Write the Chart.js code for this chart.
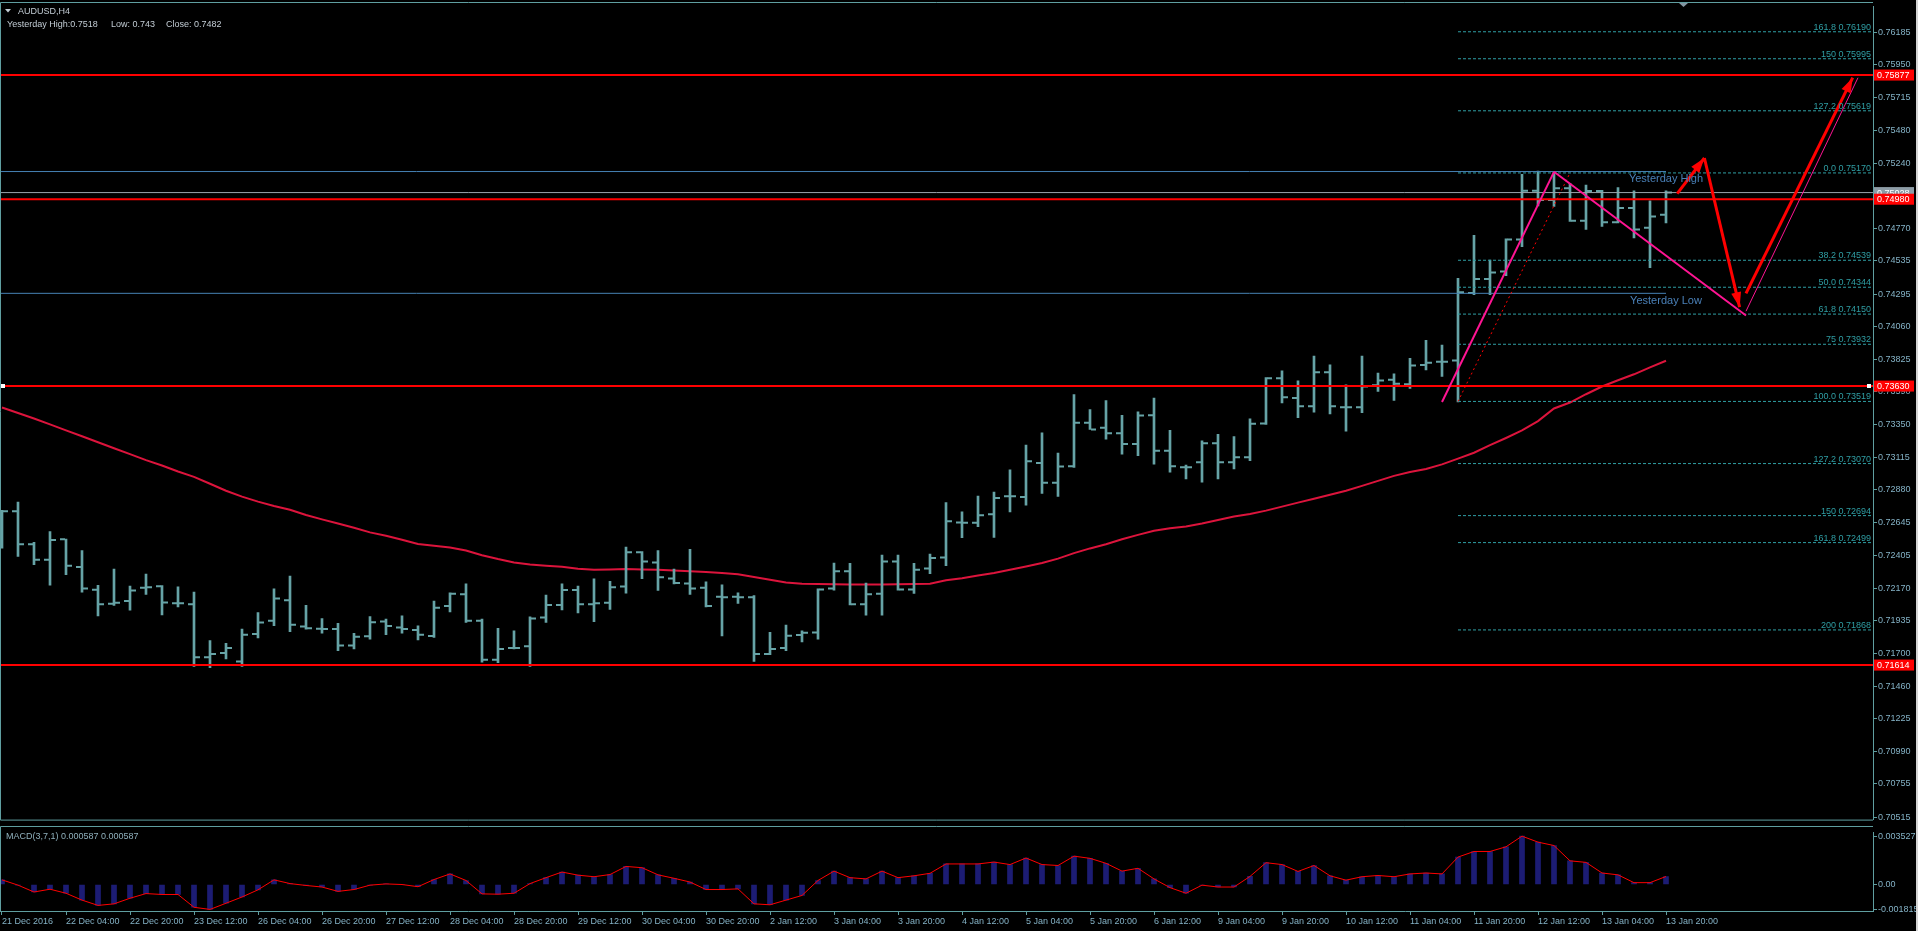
<!DOCTYPE html>
<html><head><meta charset="utf-8">
<script src="https://cdn.jsdelivr.net/npm/chart.js@4.4.1/dist/chart.umd.min.js"></script>
<style>
html,body{margin:0;padding:0;background:#000;overflow:hidden;}
#wrap{position:relative;width:1918px;height:931px;background:#000;}
canvas{position:absolute;left:0;display:block;}
#main{top:0;}
#macd{top:826px;}
</style></head><body>
<div id="wrap"><canvas id="main" width="1918" height="826"></canvas><canvas id="macd" width="1918" height="105"></canvas></div>
<script>
// ---------------- DATA ----------------
const timeLabels = ['21 Dec 2016','22 Dec 04:00','22 Dec 20:00','23 Dec 12:00','26 Dec 04:00','26 Dec 20:00','27 Dec 12:00','28 Dec 04:00','28 Dec 20:00','29 Dec 12:00','30 Dec 04:00','30 Dec 20:00','2 Jan 12:00','3 Jan 04:00','3 Jan 20:00','4 Jan 12:00','5 Jan 04:00','5 Jan 20:00','6 Jan 12:00','9 Jan 04:00','9 Jan 20:00','10 Jan 12:00','11 Jan 04:00','11 Jan 20:00','12 Jan 12:00','13 Jan 04:00','13 Jan 20:00'];
const barsPerLabel = 4;

const opens = [0.72602,0.72726,0.72487,0.72375,0.72523,0.72323,0.72158,0.72058,0.72077,0.72172,
0.72184,0.72060,0.72053,0.71671,0.71702,0.71640,0.71838,0.71934,0.72082,0.71893,
0.71876,0.71874,0.71755,0.71822,0.71929,0.71886,0.71867,0.71824,0.72041,0.72125,
0.71934,0.71652,0.71738,0.71750,0.71958,0.72048,0.72156,0.72053,0.72065,0.72182,
0.72430,0.72356,0.72239,0.72203,0.72172,0.72108,0.72108,0.72105,0.71695,0.71738,
0.71831,0.71850,0.72167,0.72292,0.72053,0.72129,0.72363,0.72160,0.72311,0.72392,
0.72645,0.72642,0.72704,0.72833,0.72828,0.73074,0.72931,0.73050,0.73365,0.73329,
0.73289,0.73212,0.73420,0.73162,0.73043,0.73079,0.73217,0.73079,0.73115,0.73360,
0.73687,0.73544,0.73484,0.73730,0.73477,0.73477,0.73635,0.73675,0.73644,0.73783,
0.73806,0.73814,0.74303,0.74403,0.74458,0.74689,0.75042,0.74975,0.75059,0.74825,
0.75040,0.74813,0.74916,0.74773,0.74868];
const highs = [0.72733,0.72792,0.72501,0.72578,0.72525,0.72442,0.72191,0.72308,0.72184,0.72272,
0.72189,0.72179,0.72141,0.71791,0.71771,0.71874,0.71993,0.72165,0.72258,0.72046,
0.71950,0.71915,0.71843,0.71965,0.71946,0.71969,0.71898,0.72077,0.72136,0.72201,
0.71946,0.71879,0.71862,0.71962,0.72120,0.72201,0.72184,0.72237,0.72220,0.72466,
0.72435,0.72442,0.72308,0.72451,0.72215,0.72194,0.72136,0.72117,0.71850,0.71903,
0.71862,0.72165,0.72351,0.72349,0.72206,0.72408,0.72408,0.72349,0.72416,0.72788,
0.72721,0.72835,0.72864,0.73024,0.73203,0.73293,0.73146,0.73568,0.73460,0.73525,
0.73418,0.73444,0.73544,0.73310,0.73060,0.73234,0.73282,0.73265,0.73394,0.73692,
0.73740,0.73668,0.73847,0.73783,0.73639,0.73847,0.73723,0.73718,0.73830,0.73961,
0.73926,0.74408,0.74720,0.74541,0.74694,0.75159,0.75183,0.75178,0.75095,0.75083,
0.75045,0.75064,0.75040,0.74968,0.75040];
const lows = [0.72459,0.72399,0.72339,0.72191,0.72268,0.72141,0.71969,0.72046,0.72010,0.72125,
0.71977,0.72034,0.71604,0.71595,0.71659,0.71604,0.71810,0.71898,0.71855,0.71874,
0.71845,0.71719,0.71731,0.71802,0.71833,0.71845,0.71795,0.71814,0.71998,0.71922,
0.71635,0.71631,0.71731,0.71604,0.71922,0.72012,0.71991,0.71927,0.72017,0.72134,
0.72239,0.72153,0.72201,0.72125,0.72034,0.71824,0.72060,0.71640,0.71690,0.71719,
0.71781,0.71802,0.72156,0.72048,0.71974,0.71974,0.72156,0.72132,0.72275,0.72332,
0.72535,0.72614,0.72537,0.72721,0.72769,0.72855,0.72833,0.73043,0.73317,0.73246,
0.73138,0.73127,0.73065,0.73007,0.72960,0.72936,0.72960,0.73031,0.73091,0.73353,
0.73508,0.73401,0.73441,0.73429,0.73305,0.73437,0.73592,0.73527,0.73613,0.73747,
0.73699,0.73515,0.74291,0.74291,0.74427,0.74637,0.74932,0.74928,0.74820,0.74761,
0.74784,0.74808,0.74701,0.74486,0.74808];
const closes = [0.72726,0.72487,0.72375,0.72518,0.72332,0.72167,0.72053,0.72065,0.72153,0.72177,
0.72067,0.72060,0.71671,0.71695,0.71738,0.71833,0.71922,0.72096,0.71905,0.71881,
0.71874,0.71755,0.71819,0.71924,0.71896,0.71874,0.71833,0.72029,0.72129,0.71934,
0.71652,0.71731,0.71738,0.71950,0.72048,0.72156,0.72053,0.72060,0.72177,0.72430,
0.72363,0.72249,0.72208,0.72167,0.72041,0.72105,0.72105,0.71695,0.71731,0.71826,
0.71848,0.72160,0.72292,0.72053,0.72125,0.72363,0.72160,0.72303,0.72387,0.72654,
0.72642,0.72697,0.72821,0.72833,0.73086,0.72931,0.73048,0.73365,0.73317,0.73289,
0.73212,0.73418,0.73162,0.73050,0.73043,0.73217,0.73079,0.73115,0.73358,0.73687,
0.73549,0.73484,0.73730,0.73484,0.73477,0.73627,0.73670,0.73647,0.73778,0.73799,
0.73806,0.74307,0.74403,0.74451,0.74689,0.75042,0.74975,0.75059,0.74825,0.75040,
0.74813,0.74916,0.74761,0.74856,0.75028];
const maValues = [0.73475,0.73435,0.73396,0.73353,0.73310,0.73267,0.73224,0.73181,0.73138,0.73095,
0.73056,0.73013,0.72974,0.72924,0.72874,0.72831,0.72795,0.72764,0.72736,0.72699,
0.72667,0.72637,0.72606,0.72573,0.72548,0.72520,0.72489,0.72477,0.72463,0.72442,
0.72408,0.72380,0.72356,0.72340,0.72332,0.72324,0.72310,0.72302,0.72305,0.72308,
0.72305,0.72303,0.72297,0.72292,0.72287,0.72279,0.72270,0.72251,0.72231,0.72211,
0.72201,0.72199,0.72198,0.72197,0.72196,0.72196,0.72198,0.72199,0.72201,0.72227,
0.72242,0.72262,0.72279,0.72303,0.72327,0.72351,0.72383,0.72423,0.72457,0.72487,
0.72523,0.72555,0.72584,0.72602,0.72616,0.72637,0.72662,0.72687,0.72705,0.72730,
0.72759,0.72788,0.72816,0.72845,0.72874,0.72909,0.72945,0.72981,0.73009,0.73031,
0.73064,0.73106,0.73148,0.73203,0.73255,0.73310,0.73377,0.73468,0.73511,0.73571,
0.73627,0.73672,0.73715,0.73765,0.73813];
const macdValues = [0.000341,-0.000045,-0.000546,-0.000341,-0.000636,-0.001137,-0.001523,-0.001409,-0.001000,-0.000659,
-0.000727,-0.000727,-0.001659,-0.001815,-0.001364,-0.000909,-0.000386,0.000341,0.000068,-0.000068,
-0.000182,-0.000500,-0.000364,-0.000045,0.000045,0.000000,-0.000159,0.000364,0.000773,0.000295,
-0.000682,-0.000705,-0.000636,0.000068,0.000500,0.000909,0.000682,0.000568,0.000727,0.001318,
0.001227,0.000705,0.000455,0.000182,-0.000364,-0.000364,-0.000318,-0.001409,-0.001477,-0.001137,
-0.000796,0.000295,0.000977,0.000500,0.000409,0.000977,0.000500,0.000636,0.000818,0.001500,
0.001500,0.001500,0.001637,0.001455,0.001932,0.001455,0.001387,0.002068,0.001909,0.001546,
0.000977,0.001182,0.000409,-0.000227,-0.000636,-0.000045,-0.000182,-0.000182,0.000591,0.001591,
0.001455,0.000955,0.001387,0.000636,0.000318,0.000568,0.000659,0.000568,0.000773,0.000841,
0.000773,0.002000,0.002409,0.002409,0.002750,0.003527,0.003091,0.002841,0.001727,0.001614,
0.000841,0.000705,0.000136,0.000136,0.000587];

const priceTicks = [0.76185,0.75950,0.75715,0.75480,0.75240,0.75005,0.74770,0.74535,0.74295,0.74060,0.73825,0.73590,0.73350,0.73115,0.72880,0.72645,0.72405,0.72170,0.71935,0.71700,0.71460,0.71225,0.70990,0.70755,0.70515];
const macdTicks = [0.003527, 0, -0.001815];
const redLevels = [0.75877, 0.74980, 0.73630, 0.71614];
const selectedLevel = 0.73630;
const bidPrice = 0.75028;
const symbolTitle = 'AUDUSD,H4';
const yesterdayHigh = 0.7518, yesterdayLow = 0.743, yesterdayClose = 0.7482;
const fibRatios = ['161.8','150','127.2','0.0','38.2','50.0','61.8','75','100.0','127.2','150','161.8','200'];
const fibPrices = [0.76190,0.75995,0.75619,0.75170,0.74539,0.74344,0.74150,0.73932,0.73519,0.73070,0.72694,0.72499,0.71868];
const fibTrend = [[91,0.73519],[98,0.75170]];
const flagPole = [[90,0.73515],[97,0.75178]];
const flagFall = [[97,0.75178],[109,0.74140]];
const channelRise = [[109,0.74171],[116,0.75858]];
const arrowUp1 = [[104.7,0.75021],[106.4,0.75278]];
const arrowDown = [[106.4,0.75278],[108.6,0.74200]];
const arrowUp2 = [[109.0,0.74300],[115.67,0.75858]];
const macdTitle = 'MACD(3,7,1)';

// ---------------- STYLE ----------------
const FONT = '"Liberation Sans", Arial, sans-serif';
const AXIS_TXT = '#84b2c6';
const FRAME = '#5f9ea0';
const BAR_COL = '#66a3a6';
const FIB_COL = '#2f9ea4';
const X_MIN = -0.125, X_MAX = 116.9375;
const Y_MIN = 0.704976, Y_MAX = 0.763732;
const TICK_OFF = 0.21875;
const lastIdx = closes.length - 1;

const pts = arr => arr.map(p => ({x: p[0], y: p[1]}));
const hline = (v, x0, x1) => [{x: x0, y: v}, {x: x1, y: v}];

const mainDatasets = [];
mainDatasets.push({type:'line', data: maValues.map((v,i)=>({x:i,y:v})), borderColor:'#dc143c', borderWidth:2, pointRadius:0, order:30});
mainDatasets.push({type:'bar', data: highs.map((h,i)=>({x:i,y:[lows[i],h]})), backgroundColor:BAR_COL, barThickness:2, order:25});
mainDatasets.push({type:'scatter', data: opens.map((v,i)=>({x:i-TICK_OFF,y:v})), pointStyle:'line', pointRadius:2.5, pointBorderWidth:2, pointBorderColor:BAR_COL, borderColor:BAR_COL, showLine:false, order:24});
mainDatasets.push({type:'scatter', data: closes.map((v,i)=>({x:i+TICK_OFF,y:v})), pointStyle:'line', pointRadius:2.5, pointBorderWidth:2, pointBorderColor:BAR_COL, borderColor:BAR_COL, showLine:false, order:24});
fibPrices.forEach(p => mainDatasets.push({type:'line', data: hline(p, fibTrend[0][0], X_MAX), borderColor:FIB_COL, borderWidth:1, borderDash:[3,2], pointRadius:0, order:20}));
[yesterdayHigh, yesterdayLow].forEach(p => mainDatasets.push({type:'line', data: hline(p, X_MIN, lastIdx), borderColor:'#4682b4', borderWidth:1, pointRadius:0, order:19}));
mainDatasets.push({type:'line', data: hline(bidPrice, X_MIN, X_MAX), borderColor:'#9aa4ac', borderWidth:1, pointRadius:0, order:18});
redLevels.forEach(p => mainDatasets.push({type:'line', data: hline(p, X_MIN, X_MAX), borderColor:'#ff0000', borderWidth:2, pointRadius:0, order:17}));
mainDatasets.push({type:'line', data: pts(fibTrend), borderColor:'#ff0000', borderWidth:1, borderDash:[2,3], pointRadius:0, order:16});
mainDatasets.push({type:'line', data: pts(flagPole), borderColor:'#ff1493', borderWidth:2, pointRadius:0, order:15});
mainDatasets.push({type:'line', data: pts(flagFall), borderColor:'#ff1493', borderWidth:2, pointRadius:0, order:15});
mainDatasets.push({type:'line', data: pts(channelRise), borderColor:'#ff1493', borderWidth:1, pointRadius:0, order:15});
[arrowUp1, arrowDown, arrowUp2].forEach(a => mainDatasets.push({type:'line', data: pts(a), borderColor:'#ff0000', borderWidth:3, pointRadius:0, order:14}));

function arrowHead(ctx, x1, y1, x2, y2, len, half){
  const a = Math.atan2(y2-y1, x2-x1);
  const bx = x2 - len*Math.cos(a), by = y2 - len*Math.sin(a);
  ctx.beginPath();
  ctx.moveTo(x2, y2);
  ctx.lineTo(bx + half*Math.sin(a), by - half*Math.cos(a));
  ctx.lineTo(bx - half*Math.sin(a), by + half*Math.cos(a));
  ctx.closePath(); ctx.fill();
}

const mainOverlay = {
  id:'mainOverlay',
  afterDraw(chart){
    const {ctx, chartArea:ca, scales:{x, y}} = chart;
    ctx.save();
    // frame
    ctx.strokeStyle = FRAME; ctx.lineWidth = 1;
    ctx.beginPath();
    ctx.moveTo(ca.right, 2.5); ctx.lineTo(0.5, 2.5); ctx.lineTo(0.5, ca.bottom + 0.5); ctx.lineTo(ca.right, ca.bottom + 0.5);
    ctx.stroke();
    // header
    ctx.fillStyle = '#c2ccd4';
    ctx.beginPath(); ctx.moveTo(5, 9); ctx.lineTo(11, 9); ctx.lineTo(8, 12.5); ctx.closePath(); ctx.fill();
    ctx.font = '9px ' + FONT; ctx.textBaseline = 'alphabetic'; ctx.textAlign = 'left';
    ctx.fillText(symbolTitle, 18, 13.5);
    ctx.fillText('Yesterday High:' + yesterdayHigh, 7, 27);
    ctx.fillText('Low: ' + yesterdayLow, 111, 27);
    ctx.fillText('Close: ' + yesterdayClose, 166, 27);
    // chart shift marker
    ctx.fillStyle = '#8396a2';
    ctx.beginPath(); ctx.moveTo(1679, 3); ctx.lineTo(1688, 3); ctx.lineTo(1683.5, 7); ctx.closePath(); ctx.fill();
    // fib labels
    ctx.fillStyle = FIB_COL; ctx.textAlign = 'right'; ctx.font = '9px ' + FONT;
    fibPrices.forEach((p,k) => ctx.fillText(fibRatios[k] + ' ' + p.toFixed(5), x.getPixelForValue(X_MAX) - 2, y.getPixelForValue(p) - 2));
    // yesterday labels
    ctx.fillStyle = '#4a80b8'; ctx.textAlign = 'center'; ctx.font = '11px ' + FONT;
    ctx.fillText('Yesterday High', x.getPixelForValue(lastIdx), y.getPixelForValue(yesterdayHigh) + 10);
    ctx.fillText('Yesterday Low', x.getPixelForValue(lastIdx), y.getPixelForValue(yesterdayLow) + 11);
    // arrow heads
    ctx.fillStyle = '#ff0000';
    [arrowUp1, arrowDown, arrowUp2].forEach(a => {
      const p1 = a[a.length-2], p2 = a[a.length-1];
      arrowHead(ctx, x.getPixelForValue(p1[0]), y.getPixelForValue(p1[1]), x.getPixelForValue(p2[0]), y.getPixelForValue(p2[1]), 15, 5);
    });
    // selection markers
    const ys = y.getPixelForValue(selectedLevel);
    ctx.fillStyle = '#ffffff';
    ctx.fillRect(1, Math.round(ys) - 2, 4, 4);
    ctx.fillRect(ca.right - 6, Math.round(ys) - 2, 4, 4);
    // price boxes
    ctx.textAlign = 'left'; ctx.textBaseline = 'middle'; ctx.font = '9px ' + FONT;
    const box = (v, bg, fg) => {
      const py = y.getPixelForValue(v);
      ctx.fillStyle = bg; ctx.fillRect(ca.right + 1, py - 5.5, 40, 11);
      ctx.fillStyle = fg; ctx.fillText(v.toFixed(5), ca.right + 4, py + 0.5);
    };
    box(bidPrice, '#8d9ca6', '#ffffff');
    redLevels.forEach(v => box(v, '#ff0000', '#ffffff'));
    // window edge
    ctx.fillStyle = '#d4d4d4'; ctx.fillRect(1916, 0, 2, chart.height);
    ctx.restore();
  }
};

new Chart(document.getElementById('main'), {
  type:'line',
  data:{datasets: mainDatasets},
  options:{
    responsive:false, animation:false, devicePixelRatio:1, events:[],
    layout:{autoPadding:false, padding:{top:3, bottom:2, left:0, right:0}},
    plugins:{legend:{display:false}, tooltip:{enabled:false}},
    scales:{
      x:{type:'linear', min:X_MIN, max:X_MAX, display:false, offset:false, grid:{offset:false}},
      y:{type:'linear', position:'right', min:Y_MIN, max:Y_MAX, beginAtZero:false,
        afterFit:s=>{s.width=45;},
        afterBuildTicks:s=>{s.ticks = priceTicks.map(v=>({value:v}));},
        ticks:{autoSkip:false, padding:1, color:AXIS_TXT, font:{family:FONT, size:9}, callback:v=>Number(v).toFixed(5)},
        grid:{display:true, drawOnChartArea:false, drawTicks:true, tickLength:4, tickColor:FRAME},
        border:{display:true, color:FRAME, width:1}}
    }
  },
  plugins:[mainOverlay]
});

const macdOverlay = {
  id:'macdOverlay',
  afterDraw(chart){
    const {ctx, chartArea:ca} = chart;
    ctx.save();
    ctx.strokeStyle = FRAME; ctx.lineWidth = 1;
    ctx.beginPath();
    ctx.moveTo(ca.right, 0.5); ctx.lineTo(0.5, 0.5); ctx.lineTo(0.5, ca.bottom);
    ctx.stroke();
    ctx.fillStyle = '#8fb0bc'; ctx.font = '9px ' + FONT; ctx.textBaseline='alphabetic'; ctx.textAlign='left';
    const last = macdValues[macdValues.length-1].toFixed(6);
    ctx.fillText(macdTitle + ' ' + last + ' ' + last, 6, 13);
    ctx.fillStyle = '#d4d4d4'; ctx.fillRect(1916, 0, 2, chart.height);
    ctx.restore();
  }
};

new Chart(document.getElementById('macd'), {
  type:'bar',
  data:{datasets:[
    {type:'line', data: macdValues.map((v,i)=>({x:i,y:v})), borderColor:'#ff0000', borderWidth:1, pointRadius:0, order:0},
    {type:'bar', data: macdValues.map((v,i)=>({x:i,y:v})), backgroundColor:'#1c1c74', barThickness:5, order:1}
  ]},
  options:{
    responsive:false, animation:false, devicePixelRatio:1, events:[],
    layout:{autoPadding:false, padding:{top:1, bottom:0, left:0, right:0}},
    plugins:{legend:{display:false}, tooltip:{enabled:false}},
    scales:{
      x:{type:'linear', min:X_MIN, max:X_MAX, offset:false,
        afterFit:s=>{s.height=20;},
        afterBuildTicks:s=>{s.ticks = timeLabels.map((_,k)=>({value:k*barsPerLabel}));},
        ticks:{autoSkip:false, maxRotation:0, minRotation:0, align:'start', padding:1, color:AXIS_TXT, font:{family:FONT, size:9}, callback:(v,i)=>timeLabels[i]},
        grid:{display:true, drawOnChartArea:false, drawTicks:true, tickLength:4, tickColor:FRAME, offset:false},
        border:{display:true, color:FRAME, width:1}},
      y:{type:'linear', position:'right', min:-0.00193, max:0.0038, beginAtZero:false,
        afterFit:s=>{s.width=45;},
        afterBuildTicks:s=>{s.ticks = macdTicks.map(v=>({value:v}));},
        ticks:{autoSkip:false, padding:1, color:AXIS_TXT, font:{family:FONT, size:9}, callback:v=> (v===0 ? '0.00' : Number(v).toFixed(6))},
        grid:{display:true, drawOnChartArea:false, drawTicks:true, tickLength:4, tickColor:FRAME},
        border:{display:true, color:FRAME, width:1}}
    }
  },
  plugins:[macdOverlay]
});
</script>
</body></html>
